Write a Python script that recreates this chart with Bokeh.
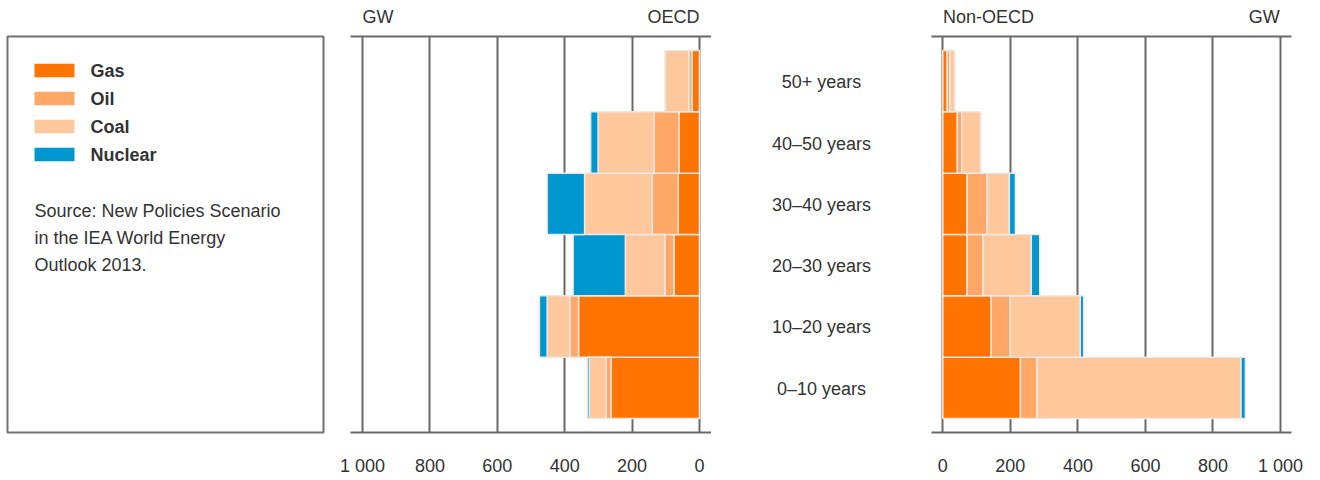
from bokeh.plotting import figure
from bokeh.layouts import row
from bokeh.models import (ColumnDataSource, FactorRange, Range1d, FixedTicker,
                          LinearAxis)
from bokeh.core.properties import value
from bokeh.embed import file_html
from bokeh.resources import INLINE

# ---------------- data ----------------
categories = ["0–10 years", "10–20 years", "20–30 years",
              "30–40 years", "40–50 years", "50+ years"]
fuels = ["Gas", "Oil", "Coal", "Nuclear"]
colors = ["#FF7300", "#FFA766", "#FFC79C", "#0097D1"]

oecd_gas = [262, 359, 76, 63, 61, 22]
oecd_oil = [15, 26, 27, 77, 74, 10]
oecd_coal = [50, 67, 117, 201, 166, 70]
oecd_nuclear = [6, 23, 155, 111, 22, 0]

non_gas = [230, 143, 72, 72, 43, 13]
non_oil = [49, 57, 47, 59, 13, 8]
non_coal = [604, 207, 143, 66, 56, 14]
non_nuclear = [13, 10, 25, 18, 0, 0]

tick_values = [0, 200, 400, 600, 800, 1000]
tick_labels = ["0", "200", "400", "600", "800", "1 000"]

source_lines = ["Source: New Policies Scenario",
                "in the IEA World Energy",
                "Outlook 2013."]

# ---------------- style ----------------
FONT = "Liberation Sans"
TXT = "#333333"
LINE = "#686868"
H = 478
TOP = 36
BOT = 46

yr = FactorRange(factors=categories, range_padding=0.2285,
                 range_padding_units="absolute")


def panel(x_range, width, mb_left, mb_right, data, head_pos, head_text):
    p = figure(width=width, height=H, x_range=x_range, y_range=yr,
               output_backend="svg", toolbar_location=None,
               x_axis_location="below", y_axis_location=None,
               min_border_left=mb_left, min_border_right=mb_right,
               min_border_top=TOP, min_border_bottom=BOT)
    p.outline_line_color = None
    src = ColumnDataSource(dict(cat=categories, **dict(zip(fuels, data))))
    p.hbar_stack(fuels, y="cat", height=1.0, fill_color=colors,
                 line_color="#ece8e4", line_width=1.5, source=src)
    ax = p.xaxis[0]
    ax.ticker = FixedTicker(ticks=tick_values)
    ax.major_label_overrides = dict(zip(tick_values, tick_labels))
    ax.major_tick_line_color = None
    ax.minor_tick_line_color = None
    ax.major_tick_out = 0
    ax.major_tick_in = 0
    ax.axis_line_color = LINE
    ax.axis_line_width = 2
    ax.major_label_standoff = 23
    ax.major_label_text_font = FONT
    ax.major_label_text_font_size = "18px"
    ax.major_label_text_color = TXT
    # top rule carrying the panel headers
    top = LinearAxis(ticker=FixedTicker(ticks=head_pos),
                     major_label_overrides=dict(zip(head_pos, head_text)),
                     major_tick_line_color=None, minor_tick_line_color=None,
                     major_tick_out=0, major_tick_in=0,
                     axis_line_color=LINE, axis_line_width=2,
                     major_label_standoff=10,
                     major_label_text_font=FONT,
                     major_label_text_font_size="18px",
                     major_label_text_color=TXT)
    p.add_layout(top, "above")
    p.xgrid.ticker = FixedTicker(ticks=tick_values)
    p.xgrid.grid_line_color = LINE
    p.xgrid.grid_line_width = 2
    p.ygrid.grid_line_color = None
    return p


# ---------------- legend panel ----------------
lp = figure(width=334, height=H, x_range=Range1d(0, 316), y_range=Range1d(396, 0),
            output_backend="svg", toolbar_location=None,
            x_axis_location=None, y_axis_location=None,
            min_border_left=7, min_border_right=11,
            min_border_top=TOP, min_border_bottom=BOT)
lp.outline_line_color = "#707070"
lp.outline_line_width = 2
lp.grid.visible = False
row_y = [34 + 28 * i for i in range(len(fuels))]
lp.rect(x=[47] * len(fuels), y=row_y, width=40, height=13.4,
        fill_color=colors, line_color=None)
lp.text(x=[83] * len(fuels), y=row_y, text=fuels,
        text_baseline="middle", text_align="left",
        text_font=value(FONT), text_font_size="18px",
        text_font_style="bold", text_color=TXT)
lp.text(x=[27, 27, 27], y=[174, 201, 228], text=source_lines,
        text_baseline="alphabetic", text_align="left",
        text_font=value(FONT), text_font_size="18px", text_color=TXT)

# ---------------- OECD panel ----------------
po = panel(Range1d(1035.6, -35.6), 377, 16, 0,
           [oecd_gas, oecd_oil, oecd_coal, oecd_nuclear],
           [954, 77], ["GW", "OECD"])

# ---------------- middle labels ----------------
pm = figure(width=220, height=H, x_range=Range1d(-1, 1), y_range=yr,
            output_backend="svg", toolbar_location=None,
            x_axis_location=None, y_axis_location=None,
            min_border_left=0, min_border_right=0,
            min_border_top=TOP, min_border_bottom=BOT)
pm.outline_line_color = None
pm.grid.visible = False
pm.text(x=[0] * len(categories), y=categories, text=categories,
        text_align="center", text_baseline="middle", y_offset=1,
        text_font=value(FONT), text_font_size="18px", text_color=TXT)

# ---------------- Non-OECD panel ----------------
pn = panel(Range1d(-33.5, 1032.5), 381, 0, 21,
           [non_gas, non_oil, non_coal, non_nuclear],
           [135, 952], ["Non-OECD", "GW"])

layout = row(lp, po, pm, pn)
open("out.html", "w").write(file_html(layout, INLINE))
